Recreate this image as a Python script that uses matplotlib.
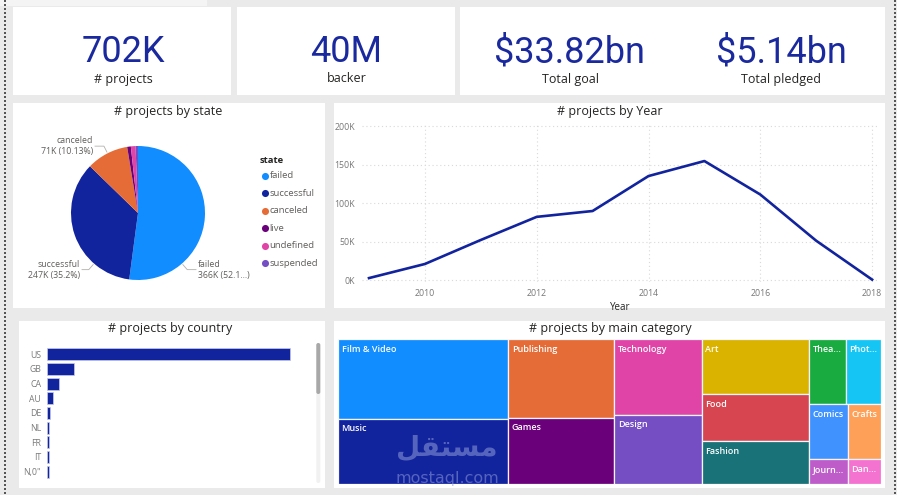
import numpy as np
import matplotlib
matplotlib.use("Agg")
import matplotlib.pyplot as plt
from matplotlib.patches import Rectangle, FancyBboxPatch

# ---------------- data ----------------
kpi_values = ["702K", "40M", "$33.82bn", "$5.14bn"]
kpi_labels = ["# projects", "backer", "Total goal", "Total pledged"]

state_names = ["failed", "successful", "canceled", "live", "undefined", "suspended"]
state_counts = [365.8, 247.1, 71.1, 6.2, 7.9, 4.1]          # thousands
state_label_text = ["366K (52.1...)", "247K (35.2%)", "71K (10.13%)"]

years = [2009, 2010, 2011, 2012, 2013, 2014, 2015, 2016, 2017, 2018]
year_counts = [2.5, 20.8, 52, 82, 89.6, 135, 154.5, 111, 51, 0.5]   # thousands
year_ticks = [2010, 2012, 2014, 2016, 2018]
year_yticks = [0, 50, 100, 150, 200]

countries = ["US", "GB", "CA", "AU", "DE", "NL", "FR", "IT", 'N,0"']
country_counts = [542, 59.6, 26, 13.4, 6.7, 4.6, 4.5, 4.4, 3.8]     # thousands

categories = ["Film & Video", "Music", "Publishing", "Games", "Technology", "Design",
              "Art", "Food", "Fashion", "Theater", "Photography", "Comics", "Crafts",
              "Journalism", "Dance"]
category_counts = [121, 98.5, 74, 62.5, 59, 53.6, 52.9, 45, 41, 21, 20.5, 18.8, 16.3, 8.4, 7.3]

# ---------------- style ----------------
PBI = ["#118DFF", "#12239E", "#E66C37", "#6B007B", "#E044A7", "#744EC2", "#D9B300",
       "#D64550", "#197278", "#1AAB40", "#15C6F4", "#4092FF", "#FFA058", "#BE5DC9", "#F472D0"]
BG = "#EAEAEA"
DARK = "#252423"
GRAY = "#605E5C"
FONT = ["Open Sans", "DejaVu Sans"]
plt.rcParams["font.family"] = FONT

W, H = 897, 495
fig = plt.figure(figsize=(W / 100, H / 100), dpi=100, facecolor=BG)


def px_axes(x, y, w, h, **kw):
    return fig.add_axes([x / W, 1 - (y + h) / H, w / W, h / H], **kw)


bg = px_axes(0, 0, W, H, zorder=0)
bg.set_xlim(0, W)
bg.set_ylim(H, 0)
bg.axis("off")

# top light strip & dotted borders
bg.add_patch(Rectangle((0, 0), 207, 6, color="#F4F4F4", lw=0))
for xx in (4.5, 895):
    bg.plot([xx, xx], [0, H], ls=(0, (1, 1)), lw=1.44, color="#555555",
            solid_capstyle="butt", dash_capstyle="butt")

# panels
panels = [(13, 7, 218, 88), (237, 7, 218, 88), (460, 7, 425, 88),
          (13, 103, 312, 205), (334, 103, 551, 205),
          (19, 321, 306, 167), (334, 321, 551, 167)]
for (x, y, w, h) in panels:
    bg.add_patch(Rectangle((x, y), w, h, facecolor="white", edgecolor="none"))

# ---------------- KPI cards ----------------
kpi_x = [123.5, 346.5, 570, 781]
for xv, v, lab in zip(kpi_x, kpi_values, kpi_labels):
    bg.text(xv, 62, v, ha="center", va="baseline", fontsize=26, color="#1A2A9E",
            family=["Roboto", "DejaVu Sans"])
    bg.text(xv, 82.5, lab, ha="center", va="baseline", fontsize=9, color=DARK)

# ---------------- titles ----------------
titles = [(168, 115.5, "# projects by state"), (610, 114.5, "# projects by Year"),
          (170, 332, "# projects by country"), (610, 332, "# projects by main category")]
for x, y, t in titles:
    bg.text(x, y, t, ha="center", va="baseline", fontsize=9, color=DARK)

# ---------------- pie ----------------
PCX, PCY, PR = 138, 213, 67
pax = px_axes(PCX - PR, PCY - PR, 2 * PR, 2 * PR, zorder=2)
pax.pie(state_counts, colors=PBI[:6], startangle=90, counterclock=False, radius=1,
        wedgeprops=dict(linewidth=0))
pax.set_xlim(-1, 1)
pax.set_ylim(-1, 1)
pax.set_aspect("equal")
pax.axis("off")

# data labels with leader lines (anchor angles as Power BI placed them)
label_anchor_deg = [-49, -131, 117]
label_text_x = [198, 80, 93]
for i, (ang, tx) in enumerate(zip(label_anchor_deg, label_text_x)):
    a = np.deg2rad(ang)
    ex, ey = PCX + PR * 1.02 * np.cos(a), PCY - PR * 1.02 * np.sin(a)
    kx, ky = PCX + PR * 1.12 * np.cos(a), PCY - PR * 1.12 * np.sin(a)
    right = np.cos(a) > 0
    lx = tx - 2 if right else tx + 2
    bg.plot([ex, kx, lx], [ey, ky, ky], color="#B3B0AD", lw=0.6)
    bg.text(tx, ky, state_names[i] + "\n" + state_label_text[i],
            ha="left" if right else "right", va="center", fontsize=6.3,
            color=GRAY, linespacing=1.3, multialignment="left" if right else "right")

# legend
bg.text(260, 160.5, "state", ha="left", va="center", fontsize=6.8, color=DARK,
        fontweight="bold")
leg_y0, leg_dy = 176, 17.45
for i, name in enumerate(state_names):
    yy = leg_y0 + i * leg_dy
    bg.scatter([264.5], [yy], s=26, color=PBI[i], lw=0)
    bg.text(269.5, yy, name, ha="left", va="center", fontsize=6.8, color=GRAY)

# ---------------- line chart ----------------
PX_PER_YEAR = 55.9
PX_PER_K = 0.77
L_X0, L_X1 = 362, 878
L_Y0, L_Y1 = 124, 282
lax = px_axes(L_X0, L_Y0, L_X1 - L_X0, L_Y1 - L_Y0, zorder=2)
lax.set_facecolor("none")
lax.set_xlim(2009 - (369 - L_X0) / PX_PER_YEAR, 2009 + (L_X1 - 369) / PX_PER_YEAR)
lax.set_ylim(-(L_Y1 - 280) / PX_PER_K, (280 - L_Y0) / PX_PER_K)
lax.plot(years, year_counts, color="#12239E", lw=1.9, solid_joinstyle="round",
         clip_on=False)
lax.set_xticks(year_ticks)
lax.set_yticks(year_yticks)
lax.set_yticklabels([f"{v}K" for v in year_yticks])
lax.tick_params(length=0, labelsize=6.3, labelcolor="#777777", pad=5)
lax.grid(True, color="#D9D9D9", lw=0.8, ls=(0, (1, 2.5)))
for s in lax.spines.values():
    s.set_visible(False)
lax.set_xlabel("Year", fontsize=7, color=DARK, labelpad=3)

# ---------------- bar chart ----------------
BAR_PX_PER_K = 243 / 542
B_X0, B_X1 = 47, 305
ROW_PX = 14.67
B_Y_FIRST = 354.3
B_TOP = B_Y_FIRST - 0.6 * ROW_PX
B_BOT = B_Y_FIRST + 8.6 * ROW_PX
bax = px_axes(B_X0, B_TOP, B_X1 - B_X0, B_BOT - B_TOP, zorder=2)
bax.set_facecolor("none")
bax.barh(range(len(countries)), country_counts, height=0.8, color="#12239E",
         edgecolor="#C5CBEF", lw=0.5)
bax.set_xlim(0, (B_X1 - B_X0) / BAR_PX_PER_K)
bax.set_ylim(8.6, -0.6)
bax.set_yticks(range(len(countries)))
bax.set_yticklabels(countries)
bax.set_xticks([])
bax.tick_params(length=0, labelsize=6.3, labelcolor="#7A7A7A", pad=4.3)
for s in bax.spines.values():
    s.set_visible(False)

# scrollbar
bg.add_patch(FancyBboxPatch((316.3, 343), 4, 140, boxstyle="round,pad=0,rounding_size=2",
                            facecolor="#F1F1F1", edgecolor="none"))
bg.add_patch(FancyBboxPatch((316.3, 343), 4, 51, boxstyle="round,pad=0,rounding_size=2",
                            facecolor="#A8A8A8", edgecolor="none"))

# ---------------- treemap ----------------
PHI = (1 + 5 ** 0.5) / 2


def squarify(values, x0, y0, x1, y1, ratio=PHI):
    n = len(values)
    rects = [None] * n
    value = float(sum(values))
    i0 = i1 = 0
    while i0 < n:
        dx, dy = x1 - x0, y1 - y0
        sum_v = values[i1]
        i1 += 1
        min_v = max_v = sum_v
        alpha = max(dy / dx, dx / dy) / (value * ratio)
        beta = sum_v * sum_v * alpha
        min_ratio = max(max_v / beta, beta / min_v)
        while i1 < n:
            nv = values[i1]
            s = sum_v + nv
            mn, mx = min(min_v, nv), max(max_v, nv)
            beta = s * s * alpha
            new_ratio = max(mx / beta, beta / mn)
            if new_ratio > min_ratio:
                break
            sum_v, min_v, max_v, min_ratio = s, mn, mx, new_ratio
            i1 += 1
        row = range(i0, i1)
        if dx < dy:
            h = dy * sum_v / value
            xx = x0
            for i in row:
                w = dx * values[i] / sum_v
                rects[i] = (xx, y0, w, h)
                xx += w
            y0 += h
        else:
            w = dx * sum_v / value
            yy = y0
            for i in row:
                h = dy * values[i] / sum_v
                rects[i] = (x0, yy, w, h)
                yy += h
            x0 += w
        value -= sum_v
        i0 = i1
    return rects


TM_X, TM_Y, TM_W, TM_H = 338, 339, 543, 145
tax = px_axes(TM_X, TM_Y, TM_W, TM_H, zorder=2)
tax.set_xlim(0, TM_W)
tax.set_ylim(TM_H, 0)
tax.axis("off")
rects = squarify(category_counts, 0, 0, TM_W, TM_H)
renderer = fig.canvas.get_renderer()
for i, (name, (x, y, w, h)) in enumerate(zip(categories, rects)):
    tax.add_patch(Rectangle((x, y), w, h, facecolor=PBI[i], edgecolor="#F4F6FC", lw=0.9))
    t = tax.text(x + 3.5, y + 10, name, ha="left", va="center", fontsize=6.5,
                 color="white", fontweight="semibold", clip_on=True)
    avail = w - 6.2
    if t.get_window_extent(renderer).width > avail:
        s = name
        while len(s) > 1:
            s = s[:-1]
            t.set_text(s + "...")
            if t.get_window_extent(renderer).width <= avail + 1.5:
                break

# watermark
mx = rects[1][0] + rects[1][2] * 0.64
tax.text(mx, TM_H - 36, "\uFEDE\uFED8\uFE98\uFEB4\uFEE3", ha="center", va="center",
         fontsize=20, color="#8E9BD8", alpha=0.55, family=["DejaVu Sans"],
         fontweight="bold")
tax.text(mx, TM_H - 6, "mostaql.com", ha="center", va="center", fontsize=11.5,
         color="#8E9BD8", alpha=0.55, family=["DejaVu Sans"])

fig.savefig("out.png", dpi=100, facecolor=BG)
